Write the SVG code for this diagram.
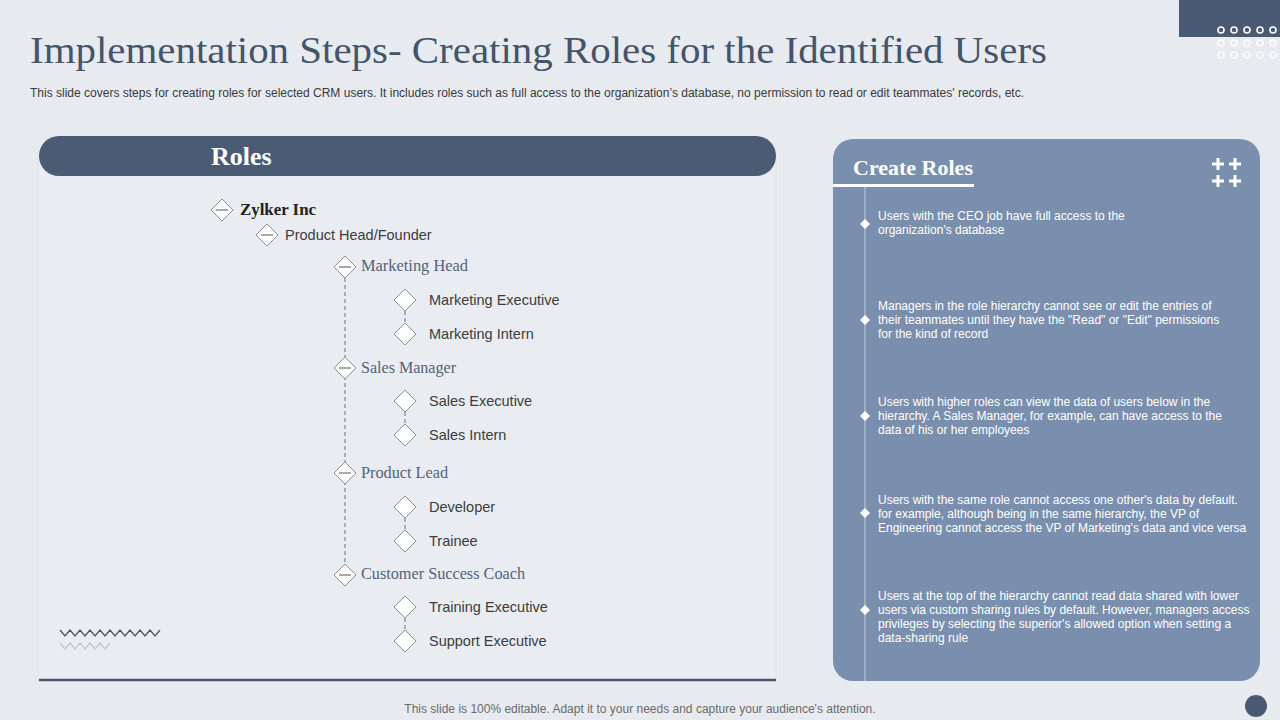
<svg xmlns="http://www.w3.org/2000/svg" width="1280" height="720" viewBox="0 0 1280 720">
<defs>
<style>
.serif{font-family:"Liberation Serif","DejaVu Serif",serif}
.sans{font-family:"Liberation Sans",Arial,sans-serif}
.dia{fill:#fff;stroke:#8a8f98;stroke-width:1}
.minus{stroke:#555;stroke-width:1}
.l1{font-family:"Liberation Serif",serif;font-size:16px;fill:#53627d}
.l2{font-family:"Liberation Sans",Arial,sans-serif;font-size:14.5px;fill:#3d3d3d}
.dash{stroke:#6b7280;stroke-width:1;stroke-dasharray:4 3;fill:none}
.note{font-family:"Liberation Sans",Arial,sans-serif;font-size:12px;fill:#fff}
.wd{fill:#fff}
.dot{fill:none;stroke-width:1.6}
</style>
<path id="d" d="M0,-11 L11,0 L0,11 L-11,0 Z"/>
</defs>
<rect width="1280" height="720" fill="#e7eaef"/>
<!-- top right decoration -->
<rect x="1179" y="0" width="101" height="37" fill="#4a5a73"/>
<g class="dot" stroke="#ffffff">
<circle cx="1221" cy="30" r="3"/><circle cx="1234" cy="30" r="3"/><circle cx="1247" cy="30" r="3"/><circle cx="1260" cy="30" r="3"/><circle cx="1273" cy="30" r="3"/>
</g>
<g class="dot" stroke="#fbfcfd">
<circle cx="1221" cy="43" r="3"/><circle cx="1234" cy="43" r="3"/><circle cx="1247" cy="43" r="3"/><circle cx="1260" cy="43" r="3"/><circle cx="1273" cy="43" r="3"/>
<circle cx="1221" cy="55" r="3"/><circle cx="1234" cy="55" r="3"/><circle cx="1247" cy="55" r="3"/><circle cx="1260" cy="55" r="3"/><circle cx="1273" cy="55" r="3"/>
</g>
<!-- title -->
<text x="30" y="63" class="serif" font-size="38" fill="#44546a" textLength="1017" lengthAdjust="spacingAndGlyphs">Implementation Steps- Creating Roles for the Identified Users</text>
<text x="30" y="97" class="sans" font-size="12" fill="#3a3a3a" textLength="994" lengthAdjust="spacingAndGlyphs">This slide covers steps for creating roles for selected CRM users. It includes roles such as full access to the organization’s database, no permission to read or edit teammates' records, etc.</text>
<!-- left panel -->
<g id="roles-panel">
<rect x="38" y="150" width="738" height="530" fill="#e9ecf1" stroke="#e0e3e9" stroke-width="1"/>
<rect x="39" y="136" width="737" height="40" rx="20" fill="#4a5b74"/>
<text x="211" y="165" class="serif" font-size="26" font-weight="bold" fill="#fff">Roles</text>
<line x1="39" y1="680" x2="776" y2="680" stroke="#4d5567" stroke-width="2.5"/>
<polyline points="60,630 65,636 70,630 75,636 80,630 85,636 90,630 95,636 100,630 105,636 110,630 115,636 120,630 125,636 130,630 135,636 140,630 145,636 150,630 155,636 160,630" fill="none" stroke="#4d5567" stroke-width="1.3"/>
<polyline points="60,643 65,649 70,643 75,649 80,643 85,649 90,643 95,649 100,643 105,649 110,643" fill="none" stroke="#c3c7d0" stroke-width="1.3"/>
</g>
<!-- connectors -->
<g id="connectors">
<line class="dash" x1="345" y1="278" x2="345" y2="564"/>
<line class="dash" x1="405" y1="311" x2="405" y2="323"/>
<line class="dash" x1="405" y1="412" x2="405" y2="424"/>
<line class="dash" x1="405" y1="518" x2="405" y2="530"/>
<line class="dash" x1="405" y1="618" x2="405" y2="630"/>
</g>
<!-- tree nodes -->
<g id="n-zylker"><use href="#d" x="222" y="210" class="dia"/><line class="minus" x1="216" y1="210" x2="228" y2="210"/><text x="240" y="215" class="serif" font-size="16" font-weight="bold" fill="#222" textLength="76" lengthAdjust="spacingAndGlyphs">Zylker Inc</text></g>
<g id="n-producthead"><use href="#d" x="267" y="235" class="dia"/><line class="minus" x1="261" y1="235" x2="273" y2="235"/><text x="285" y="240" class="l2">Product Head/Founder</text></g>
<g id="n-mkthead"><use href="#d" x="345" y="267" class="dia"/><line class="minus" x1="339" y1="267" x2="351" y2="267"/><text x="361" y="271" class="l1" textLength="107" lengthAdjust="spacingAndGlyphs">Marketing Head</text></g>
<g id="n-mktexec"><use href="#d" x="405" y="300" class="dia"/><text x="429" y="305" class="l2">Marketing Executive</text></g>
<g id="n-mktintern"><use href="#d" x="405" y="334" class="dia"/><text x="429" y="339" class="l2">Marketing Intern</text></g>
<g id="n-salesmgr"><use href="#d" x="345" y="368" class="dia"/><line class="minus" x1="339" y1="368" x2="351" y2="368"/><text x="361" y="373" class="l1" textLength="95" lengthAdjust="spacingAndGlyphs">Sales Manager</text></g>
<g id="n-salesexec"><use href="#d" x="405" y="401" class="dia"/><text x="429" y="406" class="l2">Sales Executive</text></g>
<g id="n-salesintern"><use href="#d" x="405" y="435" class="dia"/><text x="429" y="440" class="l2">Sales Intern</text></g>
<g id="n-prodlead"><use href="#d" x="345" y="473" class="dia"/><line class="minus" x1="339" y1="473" x2="351" y2="473"/><text x="361" y="478" class="l1" textLength="87" lengthAdjust="spacingAndGlyphs">Product Lead</text></g>
<g id="n-dev"><use href="#d" x="405" y="507" class="dia"/><text x="429" y="512" class="l2">Developer</text></g>
<g id="n-trainee"><use href="#d" x="405" y="541" class="dia"/><text x="429" y="546" class="l2">Trainee</text></g>
<g id="n-csc"><use href="#d" x="345" y="575" class="dia"/><line class="minus" x1="339" y1="575" x2="351" y2="575"/><text x="361" y="579" class="l1" textLength="164" lengthAdjust="spacingAndGlyphs">Customer Success Coach</text></g>
<g id="n-trainexec"><use href="#d" x="405" y="607" class="dia"/><text x="429" y="612" class="l2">Training Executive</text></g>
<g id="n-supexec"><use href="#d" x="405" y="641" class="dia"/><text x="429" y="646" class="l2">Support Executive</text></g>
<!-- right panel -->
<g id="create-roles">
<rect x="833" y="139" width="427" height="542" rx="20" fill="#7a8fae"/>
<text x="853" y="175" class="serif" font-size="22" font-weight="bold" fill="#fff">Create Roles</text>
<line x1="833" y1="185.5" x2="974" y2="185.5" stroke="#fff" stroke-width="3"/>
<line x1="865" y1="187" x2="865" y2="681" stroke="#c5cfdc" stroke-width="1"/>
<g stroke="#fff" stroke-width="3">
<path d="M1212,164h12M1218,158v12M1229,164h12M1235,158v12M1212,181h12M1218,175v12M1229,181h12M1235,175v12"/>
</g>
<g class="wd">
<path d="M865,219l5,5l-5,5l-5,-5z"/>
<path d="M865,315l5,5l-5,5l-5,-5z"/>
<path d="M865,411l5,5l-5,5l-5,-5z"/>
<path d="M865,508l5,5l-5,5l-5,-5z"/>
<path d="M865,605l5,5l-5,5l-5,-5z"/>
</g>
<text class="note"><tspan x="878" y="220">Users with the CEO job have full access to the</tspan><tspan x="878" y="234">organization's database</tspan></text>
<text class="note"><tspan x="878" y="310">Managers in the role hierarchy cannot see or edit the entries of</tspan><tspan x="878" y="324">their teammates until they have the "Read" or "Edit" permissions</tspan><tspan x="878" y="338">for the kind of record</tspan></text>
<text class="note"><tspan x="878" y="406">Users with higher roles can view the data of users below in the</tspan><tspan x="878" y="420">hierarchy. A Sales Manager, for example, can have access to the</tspan><tspan x="878" y="434">data of his or her employees</tspan></text>
<text class="note"><tspan x="878" y="504">Users with the same role cannot access one other's data by default.</tspan><tspan x="878" y="518">for example, although being in the same hierarchy, the VP of</tspan><tspan x="878" y="532">Engineering cannot access the VP of Marketing's data and vice versa</tspan></text>
<text class="note"><tspan x="878" y="600">Users at the top of the hierarchy cannot read data shared with lower</tspan><tspan x="878" y="614">users via custom sharing rules by default. However, managers access</tspan><tspan x="878" y="628">privileges by selecting the superior's allowed option when setting a</tspan><tspan x="878" y="642">data-sharing rule</tspan></text>
</g>
<!-- footer -->
<text x="640" y="713" text-anchor="middle" class="sans" font-size="12" fill="#6b6b6b">This slide is 100% editable. Adapt it to your needs and capture your audience's attention.</text>
<circle cx="1256" cy="706" r="11" fill="#4a5a73"/>
</svg>
